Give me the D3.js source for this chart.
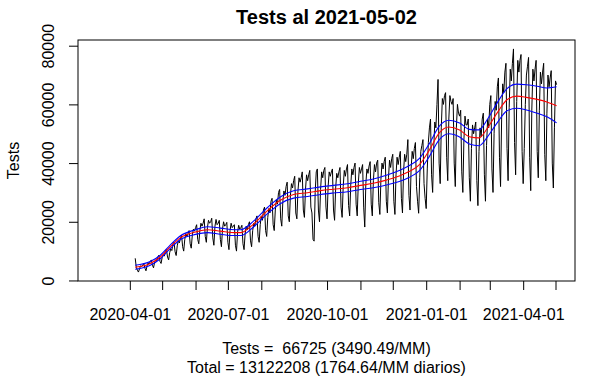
<!DOCTYPE html>
<html>
<head>
<meta charset="utf-8">
<script src="https://cdn.jsdelivr.net/npm/d3@7"></script>
<style>
body { margin: 0; background: #fff; }
svg { display: block; }
text { font-family: "Liberation Sans", Arial, sans-serif; fill: #000; }
</style>
</head>
<body>
<svg></svg>
<script>
var width = 614;
var height = 379;
var box = {left: 78, right: 575, top: 40, bottom: 281};

// daily tests, one row per week (Mon..Sun), first row starts 2020-04-06
var firstDay = '2020-04-06';
var xStart = '2020-03-01';   // series starts with empty days
var lastDay = '2021-05-02';
var testsByWeek = [
  [7550, 4500, 3500, 2860, 4000, 5000, 4800],
  [5200, 5800, 4200, 3300, 5000, 6000, 5600],
  [6500, 7000, 5200, 4300, 6200, 7000, 6800],
  [8000, 8600, 6500, 5800, 7800, 8800, 8300],
  [10000, 10500, 8000, 7000, 9500, 10800, 10200],
  [12500, 13000, 9800, 8500, 11800, 13500, 12800],
  [14500, 15500, 11500, 10000, 14000, 16000, 15000],
  [16000, 17000, 12500, 11000, 15500, 17500, 16800],
  [18000, 19000, 14000, 12500, 17000, 19500, 18500],
  [19500, 21000, 15000, 13000, 18000, 20500, 19500],
  [20000, 21200, 14500, 12000, 18500, 20800, 19000],
  [19500, 20500, 14000, 11500, 17500, 20000, 18500],
  [19000, 19800, 13000, 10500, 17000, 19500, 18000],
  [18500, 19000, 12000, 10000, 16500, 18800, 17500],
  [18000, 18800, 12500, 10500, 16000, 18500, 17200],
  [19000, 20000, 13500, 11500, 17000, 19500, 18500],
  [21000, 22000, 15000, 13000, 19000, 22000, 20500],
  [24000, 25000, 17000, 15000, 21500, 24500, 23000],
  [27000, 28000, 19000, 17000, 24000, 27500, 26000],
  [30000, 31000, 21000, 18500, 27000, 30500, 29000],
  [32000, 33500, 22000, 20000, 29000, 33000, 31500],
  [34000, 35500, 23000, 21000, 30500, 35000, 33500],
  [35000, 37000, 24000, 21500, 31000, 36000, 34000],
  [36000, 37500, 25000, 23000, 14000, 13400, 30000],
  [37000, 38000, 24000, 20000, 31000, 37000, 35000],
  [37500, 38500, 25000, 21000, 32000, 37000, 35500],
  [37000, 38000, 24000, 20500, 31500, 36500, 35000],
  [37000, 38500, 25000, 21500, 32000, 37500, 35500],
  [38000, 39500, 25500, 22000, 32500, 38000, 36000],
  [38500, 40000, 26000, 22000, 33000, 38500, 36500],
  [38000, 39500, 25000, 18200, 33000, 38000, 36500],
  [39000, 40500, 26000, 22000, 34000, 39500, 37000],
  [40000, 41000, 26500, 22500, 34500, 40000, 38000],
  [40500, 42000, 27000, 23000, 35000, 41000, 38500],
  [41500, 43000, 27000, 22500, 36000, 42000, 39500],
  [42000, 44000, 28000, 23000, 37000, 43000, 40500],
  [43000, 48000, 29000, 24000, 38000, 44000, 41500],
  [45000, 47000, 32000, 27000, 22900, 35000, 44000],
  [46000, 48000, 33000, 28000, 24500, 38000, 47000],
  [52000, 55000, 36000, 30000, 45000, 54000, 52000],
  [60000, 68500, 40000, 33000, 52000, 62000, 60000],
  [63000, 64000, 42000, 34000, 55000, 63000, 61000],
  [60000, 62000, 40000, 32000, 52000, 60000, 57000],
  [56000, 58000, 37000, 30000, 48000, 56000, 53000],
  [53000, 55000, 35000, 27000, 45000, 53000, 50000],
  [52000, 54000, 34000, 25500, 44000, 52000, 49000],
  [55000, 57000, 36000, 27000, 46000, 55000, 52000],
  [60000, 63000, 38000, 30000, 50000, 61000, 58000],
  [66000, 69000, 42000, 32000, 55000, 67000, 64000],
  [71000, 74000, 45000, 34000, 59000, 72000, 68000],
  [74000, 78900, 47000, 36000, 61000, 75000, 71000],
  [75000, 77000, 44000, 33000, 45000, 60000, 70000],
  [73000, 76000, 42000, 30600, 58000, 72000, 68000],
  [72000, 75000, 44000, 35000, 58000, 71000, 67000],
  [71000, 74000, 43000, 34000, 57000, 70000, 66000],
  [69000, 71500, 40000, 31500, 52000, 68000, 66725]
];

// smoothed fit (red) and its band (blue)
var smoothDates = ['2020-04-06','2020-04-20','2020-04-29','2020-05-08','2020-05-18','2020-06-01',
  '2020-06-12','2020-06-24','2020-07-07','2020-07-13','2020-07-25','2020-08-07','2020-08-19',
  '2020-08-31','2020-09-13','2020-09-25','2020-10-07','2020-10-20','2020-11-01','2020-11-13',
  '2020-11-25','2020-12-07','2020-12-16','2020-12-26','2021-01-04','2021-01-13','2021-01-22',
  '2021-02-01','2021-02-10','2021-02-19','2021-02-27','2021-03-08','2021-03-17','2021-03-26',
  '2021-04-04','2021-04-14','2021-04-23','2021-05-02'];
var smoothFit = [4500, 5800, 7900, 11300, 14600, 16500, 17300, 16800, 16300, 16300, 19300, 23900, 27400,
  29300, 29900, 30600, 31100, 31600, 32400, 33100, 34200, 35600, 37100, 39600, 44500, 50200, 52300,
  51300, 49000, 48600, 52000, 57200, 61600, 62800, 62400, 61700, 60800, 59500];
var smoothUpper = [5200, 6450, 8500, 11900, 15250, 17300, 18300, 17850, 17300, 17300, 20300, 24950, 28550,
  30550, 31200, 31900, 32400, 32950, 33800, 34600, 35850, 37500, 39100, 41700, 46700, 52500, 54600,
  53700, 51500, 51300, 55000, 60600, 65400, 66900, 66700, 66200, 65600, 66000];
var smoothLower = [3800, 5150, 7300, 10700, 13950, 15700, 16300, 15750, 15300, 15300, 18300, 22850, 26250,
  28050, 28600, 29300, 29800, 30250, 31000, 31600, 32550, 33700, 35100, 37500, 42300, 47900, 50000,
  48900, 46500, 45900, 49000, 53800, 57800, 58700, 58100, 57000, 55800, 53700];

var monthTicks = ['2020-04-01','2020-05-01','2020-06-01','2020-07-01','2020-08-01','2020-09-01',
  '2020-10-01','2020-11-01','2020-12-01','2021-01-01','2021-02-01','2021-03-01','2021-04-01','2021-05-01'];
var labelTicks = ['2020-04-01','2020-07-01','2020-10-01','2021-01-01','2021-04-01'];
var yTicks = [0, 20000, 40000, 60000, 80000];

var title = 'Tests al 2021-05-02';
var yLabel = 'Tests';
var subLines = ['Tests =  66725 (3490.49/MM)', 'Total = 13122208 (1764.64/MM diarios)'];

var parse = d3.timeParse('%Y-%m-%d');
var start = parse(firstDay);
var daily = d3.merge(testsByWeek).map(function (v, i) {
  return {date: d3.timeDay.offset(start, i), value: v};
});
var smooth = smoothDates.map(function (d, i) {
  return {date: parse(d), fit: smoothFit[i], up: smoothUpper[i], lo: smoothLower[i]};
});

// R-style 4% padding on both axes
var xd = [parse(xStart), parse(lastDay)];
var xpad = (xd[1] - xd[0]) * 0.04;
var Xscale = d3.scaleTime()
  .domain([new Date(+xd[0] - xpad), new Date(+xd[1] + xpad)])
  .range([box.left, box.right]);
var yd = d3.extent(daily, d => d.value);
var ypad = (yd[1] - yd[0]) * 0.04;
var Yscale = d3.scaleLinear()
  .domain([yd[0] - ypad, yd[1] + ypad])
  .range([box.bottom, box.top]);

var svg = d3.select('svg')
  .attr('width', width)
  .attr('height', height);

svg.append('clipPath').attr('id', 'clip')
  .append('rect')
  .attr('x', box.left).attr('y', box.top)
  .attr('width', box.right - box.left).attr('height', box.bottom - box.top);

var plot = svg.append('g').attr('clip-path', 'url(#clip)');

plot.append('path')
  .datum(daily)
  .attr('fill', 'none')
  .attr('stroke', '#000')
  .attr('stroke-width', 1)
  .attr('d', d3.line().x(d => Xscale(d.date)).y(d => Yscale(d.value)));

var curve = d3.curveMonotoneX;
[['up', '#0000ff'], ['lo', '#0000ff'], ['fit', '#ff0000']].forEach(function (s) {
  plot.append('path')
    .datum(smooth)
    .attr('fill', 'none')
    .attr('stroke', s[1])
    .attr('stroke-width', 1.1)
    .attr('d', d3.line().curve(curve).x(d => Xscale(d.date)).y(d => Yscale(d[s[0]])));
});

// box
svg.append('rect')
  .attr('x', box.left).attr('y', box.top)
  .attr('width', box.right - box.left).attr('height', box.bottom - box.top)
  .attr('fill', 'none').attr('stroke', '#000').attr('stroke-width', 1);

// x axis: monthly ticks, labels every 3 months
var Xaxis = d3.axisBottom(Xscale)
  .tickValues(monthTicks.map(parse))
  .tickSize(9)
  .tickSizeOuter(0)
  .tickFormat(function (d) {
    var s = d3.timeFormat('%Y-%m-%d')(d);
    return labelTicks.indexOf(s) >= 0 ? s : '';
  });
var gx = svg.append('g')
  .attr('transform', `translate(0,${box.bottom})`)
  .call(Xaxis);
gx.select('.domain').remove();
gx.selectAll('text').attr('y', 0).attr('dy', null)
  .attr('transform', 'translate(0,39)')
  .style('font-size', '16px').style('font-family', '"Liberation Sans", Arial, sans-serif');
gx.selectAll('line').attr('stroke', '#000');

// y axis: rotated labels
var Yaxis = d3.axisLeft(Yscale)
  .tickValues(yTicks)
  .tickSize(9)
  .tickSizeOuter(0)
  .tickFormat(d3.format('d'));
var gy = svg.append('g')
  .attr('transform', `translate(${box.left},0)`)
  .call(Yaxis);
gy.select('.domain').remove();
gy.selectAll('line').attr('stroke', '#000');
gy.selectAll('text')
  .attr('x', null).attr('dy', null).attr('text-anchor', 'middle')
  .attr('transform', 'translate(-24,0) rotate(-90)')
  .style('font-size', '16px').style('font-family', '"Liberation Sans", Arial, sans-serif');

svg.append('text')
  .attr('text-anchor', 'middle')
  .attr('transform', `translate(${(box.left + box.right) / 2},24)`)
  .style('font-size', '20px')
  .style('font-weight', 'bold')
  .text(title);

svg.append('text')
  .attr('text-anchor', 'middle')
  .attr('transform', `translate(19,${(box.top + box.bottom) / 2}) rotate(-90)`)
  .style('font-size', '16px')
  .text(yLabel);

svg.selectAll('.sub')
  .data(subLines)
  .enter()
  .append('text')
  .attr('class', 'sub')
  .attr('text-anchor', 'middle')
  .attr('x', (box.left + box.right) / 2)
  .attr('y', (d, i) => 354 + i * 19)
  .style('font-size', '16px')
  .style('white-space', 'pre')
  .text(d => d);
</script>
</body>
</html>
